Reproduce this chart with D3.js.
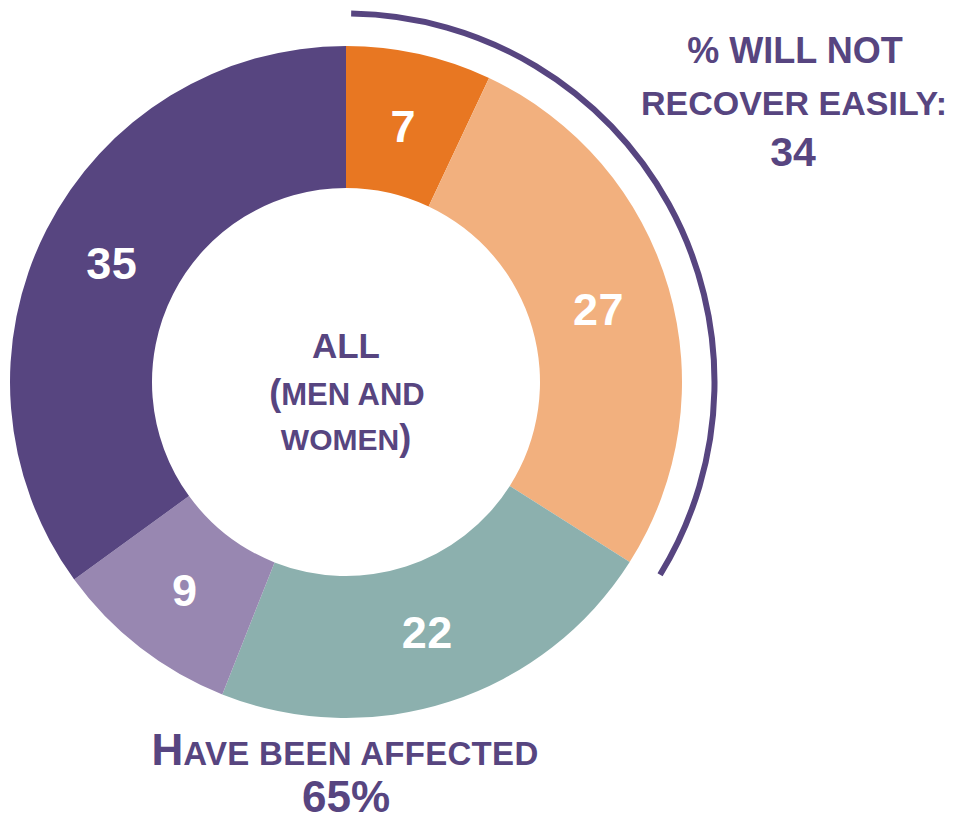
<!DOCTYPE html>
<html><head><meta charset="utf-8">
<script src="https://cdn.jsdelivr.net/npm/d3@7"></script>
<style>
html,body{margin:0;padding:0;background:#fff;}
svg{display:block;font-family:"Liberation Sans",Arial,sans-serif;font-weight:bold;}
</style></head>
<body>
<svg id="chart" width="953" height="821"></svg>
<script>
const categories = ["Will not recover easily A", "Will not recover easily B", "Affected C", "Affected D", "Not affected"];
const values = [7, 27, 22, 9, 35];
const colors = ["#E87722", "#F2B07E", "#8CB0AE", "#9887B1", "#574580"];
const recoverValue = 34;
const recoverLines = ["% WILL NOT", "RECOVER EASILY:", "34"];
const centerLines = ["ALL", "(MEN AND", "WOMEN)"];
const affectedValue = "65%";

const purple = "#574580";
const svg = d3.select("#chart");
const cx = 346, cy = 382, rOuter = 336, rInner = 194;
const g = svg.append("g").attr("transform", `translate(${cx},${cy})`);

const pie = d3.pie().sort(null).value(d => d.v);
const data = pie(values.map((v, i) => ({v, c: colors[i], k: categories[i]})));
const arc = d3.arc().innerRadius(rInner).outerRadius(rOuter);
g.selectAll("path.slice").data(data).join("path")
  .attr("class", "slice")
  .attr("d", arc)
  .attr("fill", d => d.data.c);

const labelArc = d3.arc().innerRadius(263).outerRadius(263);
g.selectAll("text.val").data(data).join("text")
  .attr("class", "val")
  .attr("transform", d => `translate(${labelArc.centroid(d)})`)
  .attr("text-anchor", "middle")
  .attr("dy", "0.36em")
  .attr("fill", "#fff")
  .attr("font-size", 45)
  .attr("letter-spacing", 0.5)
  .text(d => d.data.v);

// Outer bracket arc for "will not recover"
const total = d3.sum(values);
const angle = d3.scaleLinear().domain([0, total]).range([0, 2 * Math.PI]);
const bracket = d3.arc().innerRadius(365.5).outerRadius(371.5)
  .startAngle(angle(0) + 0.014).endAngle(angle(recoverValue) - 0.015);
g.append("path").attr("d", bracket()).attr("fill", purple);

// Right label
const rt = svg.append("text").attr("text-anchor", "middle").attr("fill", purple);
rt.append("tspan").attr("x", 795).attr("y", 63).attr("font-size", 36).text(recoverLines[0]);
rt.append("tspan").attr("x", 794).attr("y", 115).attr("font-size", 34).text(recoverLines[1]);
rt.append("tspan").attr("x", 793).attr("y", 166).attr("font-size", 41).text(recoverLines[2]);

// Center label
const ct = svg.append("text").attr("text-anchor", "middle").attr("fill", purple);
ct.append("tspan").attr("x", cx).attr("y", 358).attr("font-size", 35).text(centerLines[0]);
const l2 = ct.append("tspan").attr("x", cx + 1).attr("y", 405).attr("font-size", 31);
l2.append("tspan").attr("font-size", 36).text("(");
l2.append("tspan").text(centerLines[1].slice(1));
const l3 = ct.append("tspan").attr("x", cx).attr("y", 450).attr("font-size", 30);
l3.append("tspan").text(centerLines[2].slice(0, -1));
l3.append("tspan").attr("font-size", 36).text(")");

// Bottom label
const bt = svg.append("text").attr("text-anchor", "middle").attr("fill", purple);
const b1 = bt.append("tspan").attr("x", 345).attr("y", 765);
b1.append("tspan").attr("font-size", 44).text("H");
b1.append("tspan").attr("font-size", 33).attr("letter-spacing", 0.3).text("AVE BEEN AFFECTED");
bt.append("tspan").attr("x", 346).attr("y", 812).attr("font-size", 44).text(affectedValue);
</script>
</body></html>
